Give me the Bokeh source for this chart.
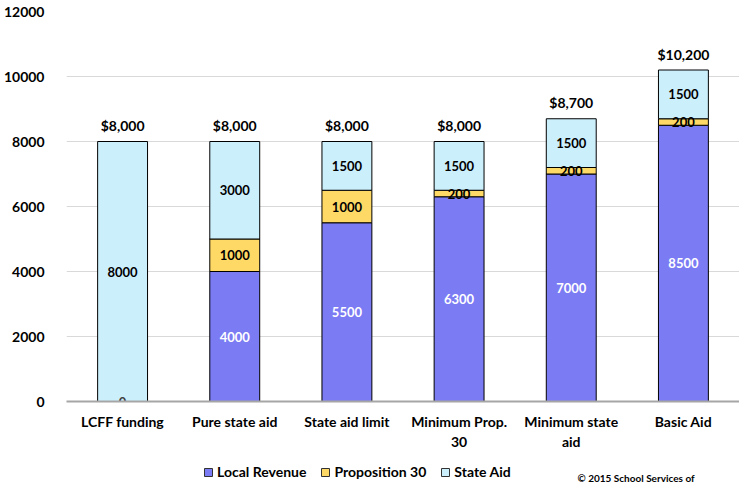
from bokeh.plotting import figure
from bokeh.layouts import column
from bokeh.models import ColumnDataSource, FactorRange, Legend, LegendItem, Label, Range1d
from bokeh.core.properties import value
from bokeh.embed import file_html
from bokeh.resources import INLINE

categories = ["LCFF funding", "Pure state aid", "State aid limit", "Minimum Prop.\n30", "Minimum state\naid", "Basic Aid"]
local_revenue = [0, 4000, 5500, 6300, 7000, 8500]
proposition_30 = [0, 1000, 1000, 200, 200, 200]
state_aid = [8000, 3000, 1500, 1500, 1500, 1500]
total_labels = ["$8,000", "$8,000", "$8,000", "$8,000", "$8,700", "$10,200"]
y_ticks = [0, 2000, 4000, 6000, 8000, 10000, 12000]
series_names = ["Local Revenue", "Proposition 30", "State Aid"]
colors = ["#7B7BF3", "#FFD966", "#CCEFFC"]

FONT = "Lato"
W = 739

p = figure(x_range=FactorRange(*categories), y_range=(0, 12000),
           width=W, height=453, output_backend="svg", toolbar_location=None,
           min_border_left=66, min_border_right=0, min_border_top=11, min_border_bottom=52)
p.outline_line_color = None
p.background_fill_color = "white"
p.border_fill_color = "white"

src = ColumnDataSource(dict(x=categories, lr=local_revenue, p30=proposition_30, sa=state_aid))
renderers = p.vbar_stack(["lr", "p30", "sa"], x="x", width=0.445, source=src,
                         fill_color=colors, line_color="black", line_width=1)

# segment labels
lx, ly, lt, lc = [], [], [], []
for i, c in enumerate(categories):
    base = 0
    for k, vals in enumerate([local_revenue, proposition_30, state_aid]):
        v = vals[i]
        mid = base + v / 2
        if k == 0:
            lx.append(c); ly.append(mid); lt.append(str(v))
            lc.append("white" if v > 0 else "#404040")
        elif v > 0:
            lx.append(c); ly.append(mid); lt.append(str(v)); lc.append("black")
        base += v
lsrc = ColumnDataSource(dict(x=lx, y=ly, t=lt, c=lc))
p.text(x="x", y="y", text="t", text_color="c", source=lsrc, text_align="center",
       text_baseline="middle", text_font=value(FONT), text_font_style="bold",
       text_font_size="13px")

totals = [a + b + c for a, b, c in zip(local_revenue, proposition_30, state_aid)]
tsrc = ColumnDataSource(dict(x=categories, y=totals, t=total_labels))
p.text(x="x", y="y", text="t", source=tsrc, text_align="center", text_baseline="middle",
       y_offset=-16, text_font=value(FONT), text_font_style="bold", text_font_size="14px",
       text_color="black")

# axes
p.yaxis.ticker = y_ticks
p.yaxis.axis_line_color = None
p.yaxis.major_tick_line_color = None
p.yaxis.minor_tick_line_color = None
p.yaxis.major_label_standoff = 16
p.yaxis.major_label_text_font = FONT
p.yaxis.major_label_text_font_style = "bold"
p.yaxis.major_label_text_font_size = "14px"
p.yaxis.major_label_text_color = "black"

p.xaxis.axis_line_color = "#A6A6A6"
p.xaxis.axis_line_width = 2
p.xaxis.major_tick_line_color = None
p.xaxis.minor_tick_line_color = None
p.xaxis.major_label_standoff = 5
p.xaxis.major_label_text_font = FONT
p.xaxis.major_label_text_font_style = "bold"
p.xaxis.major_label_text_font_size = "14px"
p.xaxis.major_label_text_color = "black"

p.xgrid.grid_line_color = None
p.ygrid.grid_line_color = "#D9D9D9"
p.ygrid.grid_line_width = 1

# legend strip
q = figure(width=W, height=31, output_backend="svg", toolbar_location=None,
           x_range=Range1d(0, 1), y_range=Range1d(0, 1),
           min_border_left=0, min_border_right=0, min_border_top=0, min_border_bottom=0)
q.outline_line_color = None
q.background_fill_color = "white"
q.border_fill_color = "white"
q.axis.visible = False
q.grid.visible = False
dummy = [q.vbar(x=[5], top=[5], width=0.1, fill_color=c, line_color="#333333") for c in colors]
legend = Legend(items=[LegendItem(label=n, renderers=[r]) for n, r in zip(series_names, dummy)],
                orientation="horizontal", location=(137, 4),
                label_text_font=FONT, label_text_font_style="bold", label_text_font_size="14px",
                label_text_color="black",
                glyph_width=10, glyph_height=10, spacing=14, label_standoff=4,
                border_line_color=None, background_fill_alpha=0, padding=2, margin=0)
q.add_layout(legend, "center")
copyright_label = Label(x=511, y=1, x_units="screen", y_units="screen",
                        text="© 2015 School Services of", text_font=FONT,
                        text_font_style="bold", text_font_size="10px", text_color="black",
                        text_baseline="bottom")
q.add_layout(copyright_label)

layout = column(p, q, spacing=0)
open("out.html", "w").write(file_html(layout, INLINE))
